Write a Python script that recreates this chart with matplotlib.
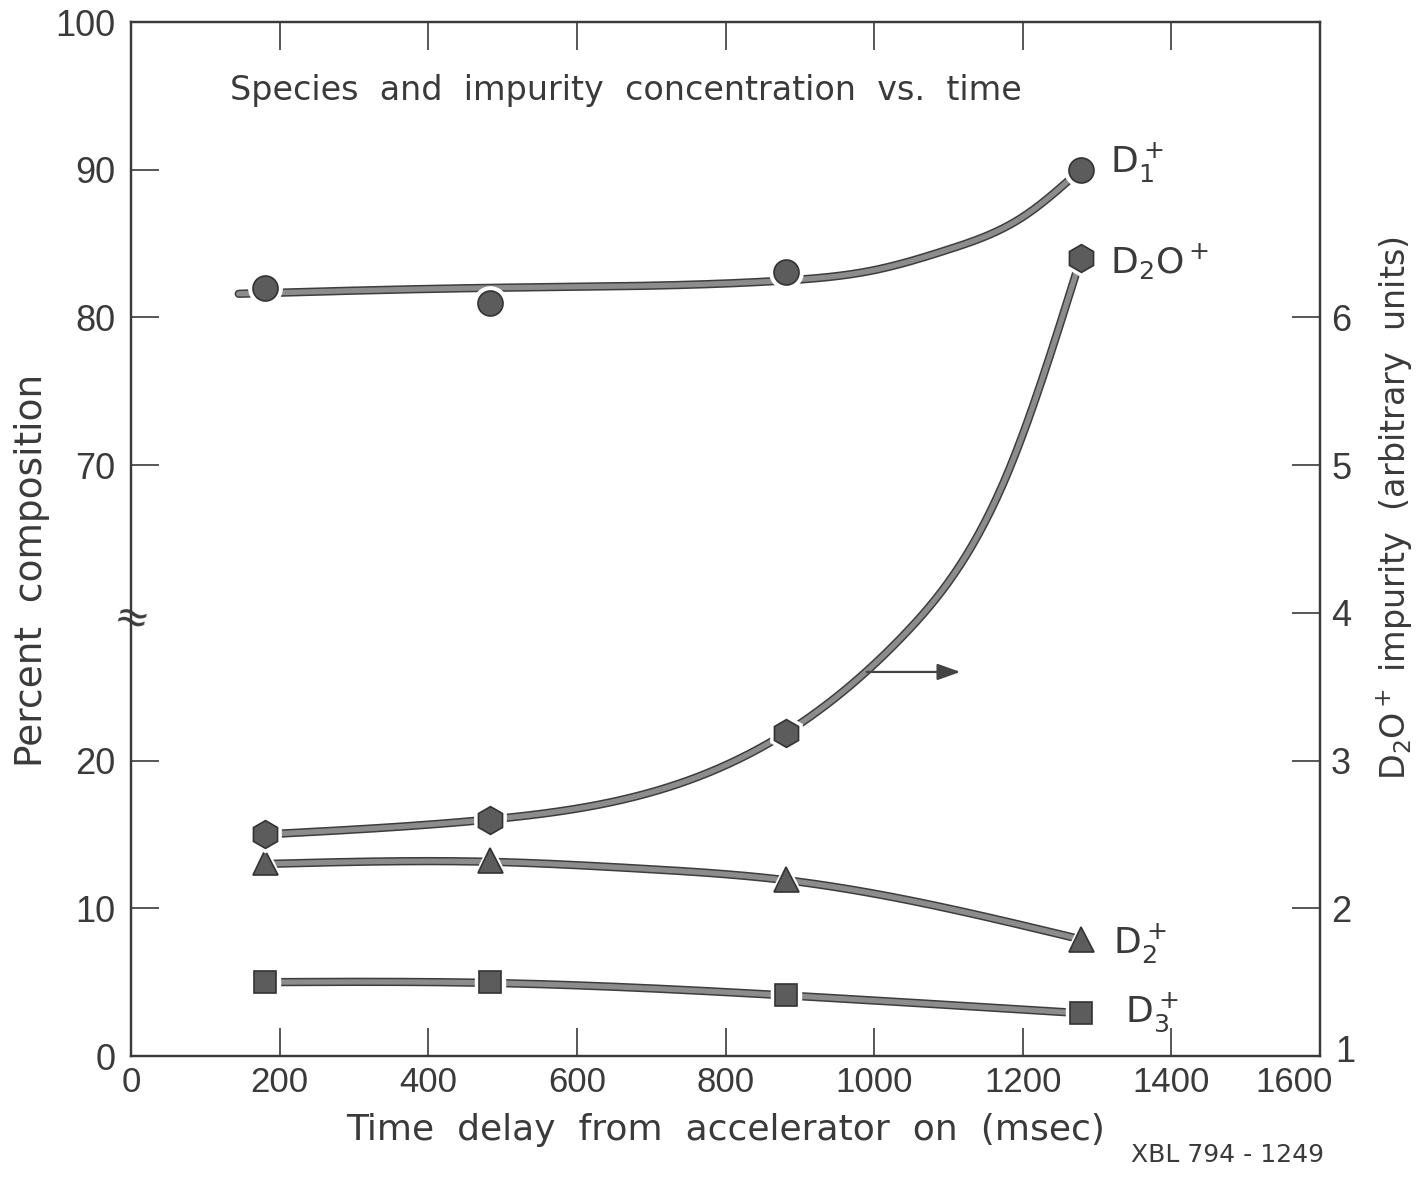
import numpy as np
import matplotlib
matplotlib.use("Agg")
import matplotlib.pyplot as plt
from matplotlib import patheffects as pe
from matplotlib.transforms import ScaledTranslation

# measured points, time delay in msec
t = [180, 483, 882, 1278]
d1 = [82.0, 81.0, 83.1, 90.0]      # percent composition
d2 = [13.1, 13.3, 12.0, 7.9]
d3 = [5.0, 5.0, 4.15, 2.9]
d2o = [2.50, 2.60, 3.19, 6.40]     # impurity, arbitrary units (right axis)

# hand drawn guide curves, knots
d1_ct = [145, 480, 880, 1000, 1100, 1200, 1278]
d1_cy = [81.6, 82.0, 82.5, 83.2, 84.6, 86.8, 90.0]
d2o_ct = [180, 480, 882, 1040, 1180, 1278]
d2o_cy = [2.50, 2.60, 3.19, 3.85, 4.95, 6.40]
d2_ct = [180, 480, 680, 882, 1278]
d2_cy = [13.0, 13.15, 12.7, 11.9, 7.9]
d3_ct = [180, 480, 882, 1278]
d3_cy = [5.0, 4.95, 4.1, 2.9]

xticks = [0, 200, 400, 600, 800, 1000, 1200, 1400, 1600]
yticks = [0, 10, 20, 70, 80, 90, 100]
rticks = [1, 2, 3, 4, 5, 6]

INK = '#3a3a3a'
LINE = '#8c8c8c'
MARK = '#5c5c5c'
NUMFONT = ['Liberation Sans', 'DejaVu Sans']


def smooth(xk, yk, n=400):
    # natural cubic spline through the knots, only for drawing the guide line
    x = np.asarray(xk, float)
    y = np.asarray(yk, float)
    k = len(x)
    h = np.diff(x)
    A = np.zeros((k, k))
    r = np.zeros(k)
    A[0, 0] = A[-1, -1] = 1
    for i in range(1, k - 1):
        A[i, i - 1] = h[i - 1]
        A[i, i] = 2 * (h[i - 1] + h[i])
        A[i, i + 1] = h[i]
        r[i] = 6 * ((y[i + 1] - y[i]) / h[i] - (y[i] - y[i - 1]) / h[i - 1])
    M = np.linalg.solve(A, r)
    xs = np.linspace(x[0], x[-1], n)
    i = np.clip(np.searchsorted(x, xs) - 1, 0, k - 2)
    a = x[i + 1] - xs
    b = xs - x[i]
    hh = h[i]
    ys = (M[i] * a**3 / (6 * hh) + M[i + 1] * b**3 / (6 * hh)
          + (y[i] / hh - M[i] * hh / 6) * a + (y[i + 1] / hh - M[i + 1] * hh / 6) * b)
    return xs, ys


# broken axis: 20..70 squeezed together
def fwd(v):
    v = np.asarray(v, float)
    return np.where(v <= 25, v, np.where(v >= 65, v - 30, 25 + (v - 25) * 0.25))


def inv(u):
    u = np.asarray(u, float)
    return np.where(u <= 25, u, np.where(u >= 35, u + 30, 25 + (u - 25) * 4))


fig = plt.figure(figsize=(14.26, 11.77), dpi=100)
ax = fig.add_axes([131 / 1426, 1 - 1056 / 1177, (1320 - 131) / 1426, (1056 - 22) / 1177])
ax.set_yscale('function', functions=(fwd, inv))
ax.set_xlim(0, 1600)
ax.set_ylim(0, 100)
ax2 = ax.twinx()
ax2.set_ylim(1, 8)

for a in (ax, ax2):
    for sp in a.spines.values():
        sp.set_linewidth(1.6)
        sp.set_color(INK)

line_fx = [pe.Stroke(linewidth=6, foreground='#3d3d3d'), pe.Normal()]


def curve(a, xk, yk):
    xs, ys = smooth(xk, yk)
    a.plot(xs, ys, color=LINE, lw=3.8, solid_capstyle='round', path_effects=line_fx, zorder=2)


def marks(a, y, m, size):
    a.plot(t, y, ls='none', marker=m, ms=size + 6, mfc='white', mec='white', zorder=3)
    a.plot(t, y, ls='none', marker=m, ms=size, mfc=MARK, mec='#333333', mew=1.2, zorder=4)


curve(ax, d1_ct, d1_cy)
curve(ax, d2_ct, d2_cy)
curve(ax, d3_ct, d3_cy)
curve(ax2, d2o_ct, d2o_cy)
marks(ax, d1, 'o', 18)
marks(ax, d2, '^', 18)
marks(ax, d3, 's', 16)
marks(ax2, d2o, 'h', 20)

# arrow pointing to the right hand scale
ax2.annotate('', xy=(1116, 3.60), xytext=(990, 3.60),
             arrowprops=dict(arrowstyle='-|>,head_length=1.4,head_width=0.5',
                             color='#444444', lw=1.6, shrinkA=0, shrinkB=0), zorder=5)

ax.set_xticks(xticks)
ax.set_xticklabels([str(v) for v in xticks], fontfamily=NUMFONT)
ax.set_yticks(yticks)
ax.set_yticklabels([str(v) for v in yticks], fontfamily=NUMFONT)
ax.yaxis.set_minor_locator(plt.NullLocator())
ax2.set_yticks(rticks)
ax2.set_yticklabels([str(v) for v in rticks], fontfamily=NUMFONT)

ax.tick_params(axis='x', which='both', direction='in', length=20, width=1.2, top=True,
               labelsize=25, colors=INK, pad=7)
ax.tick_params(axis='y', which='both', direction='in', length=20, width=1.2, right=False,
               labelsize=26, colors=INK, pad=11)
ax2.tick_params(axis='y', which='both', direction='in', length=20, width=1.2,
                labelsize=26, colors=INK, pad=8)

# nudge the crowded corner labels apart
lbl = ax.get_xticklabels()[-1]
lbl.set_transform(lbl.get_transform() + ScaledTranslation(-26 / 100, 0, fig.dpi_scale_trans))
lbl = ax2.get_yticklabels()[0]
lbl.set_transform(lbl.get_transform() + ScaledTranslation(4 / 100, 8 / 100, fig.dpi_scale_trans))

# break mark on the left axis
ax.text(0, 43, '\u2248', transform=ax.get_yaxis_transform(), rotation=-15,
        ha='center', va='center', fontsize=30, color=INK, zorder=6)

ax.set_xlabel('Time  delay  from  accelerator  on  (msec)', fontsize=26, color=INK, va='center')
ax.xaxis.set_label_coords(0.5, -0.072)
ax.set_ylabel('Percent  composition', fontsize=27, color=INK, va='center')
ax.yaxis.set_label_coords(-0.083, 0.47)
ax2.set_ylabel(r'D$_2$O$^+$ impurity  (arbitrary  units)', fontsize=24, color=INK, va='center')
ax2.yaxis.set_label_coords(1.063, 0.53)

ax.text(0.083, 0.934, 'Species  and  impurity  concentration  vs.  time', transform=ax.transAxes,
        ha='left', va='center', fontsize=24, color=INK)

lab = dict(ha='left', va='center', fontsize=26, color=INK)
ax.text(1318, 90.5, r'D$_1^+$', **lab)
ax.text(1318, 83.8, r'D$_2$O$^+$', **lab)
ax.text(1322, 7.6, r'D$_2^+$', **lab)
ax.text(1338, 3.0, r'D$_3^+$', **lab)

fig.text(0.861, 0.019, 'XBL 794 - 1249', ha='center', va='center', fontsize=18, color=INK)

fig.savefig('out.png', dpi=100)
